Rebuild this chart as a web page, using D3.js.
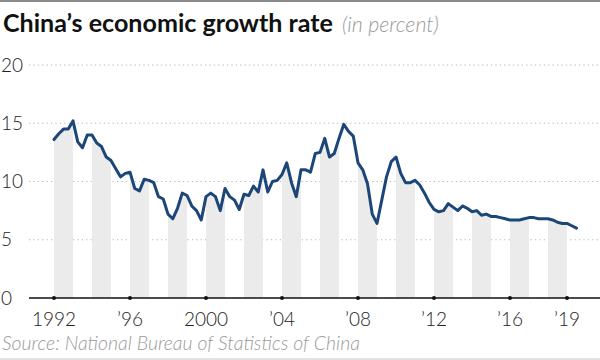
<!DOCTYPE html>
<html>
<head>
<meta charset="utf-8">
<script src="https://cdn.jsdelivr.net/npm/d3@7"></script>
<style>
  body { margin: 0; background: #fff; }
  svg { display: block; }
</style>
</head>
<body>
<div id="chart"></div>
<script>
// Quarterly growth, 1992 Q1 .. 2019 Q3 (in percent)
const startYear = 1992;
const growth = [
  13.6, 14.1, 14.5, 14.5,   // 1992
  15.2, 13.4, 12.9, 14.0,   // 1993
  14.0, 13.3, 13.0, 12.1,   // 1994
  11.8, 11.1, 10.4, 10.7,   // 1995
  10.8, 9.4, 9.2, 10.2,     // 1996
  10.1, 9.9, 8.7, 8.5,      // 1997
  7.2, 6.8, 7.7, 9.0,       // 1998
  8.8, 7.9, 7.5, 6.7,       // 1999
  8.7, 9.0, 8.7, 7.5,       // 2000
  9.4, 8.7, 8.4, 7.6,       // 2001
  8.9, 8.8, 9.6, 9.1,       // 2002
  11.0, 9.1, 10.0, 10.1,    // 2003
  10.6, 11.6, 9.9, 8.7,     // 2004
  11.0, 11.0, 10.8, 12.4,   // 2005
  12.5, 13.7, 12.1, 12.4,   // 2006
  13.7, 14.9, 14.3, 13.9,   // 2007
  11.6, 11.0, 9.8, 7.2,     // 2008
  6.4, 8.4, 10.4, 11.7,     // 2009
  12.1, 10.7, 9.9, 9.9,     // 2010
  10.1, 9.7, 9.0, 8.2,      // 2011
  7.6, 7.4, 7.5, 8.1,       // 2012
  7.8, 7.5, 7.9, 7.7,       // 2013
  7.4, 7.5, 7.1, 7.2,       // 2014
  7.0, 7.0, 6.9, 6.8,       // 2015
  6.7, 6.7, 6.7, 6.8,       // 2016
  6.9, 6.9, 6.8, 6.8,       // 2017
  6.8, 6.7, 6.5, 6.4,       // 2018
  6.4, 6.2, 6.0             // 2019
];

// shaded years
const bandYears = [1992, 1994, 1996, 1998, 2000, 2002, 2004, 2006, 2008, 2010, 2012, 2014, 2016, 2018];

// axis ticks
const xTicks = [1992, 1996, 2000, 2004, 2008, 2012, 2016, 2019];
const xTickLabels = ["1992", "\u201996", "2000", "\u201904", "\u201908", "\u201912", "\u201916", "\u201919"];
const yTicks = [0, 5, 10, 15, 20];

const width = 600;
const height = 360;
const font = "Lato, 'Noto Sans', sans-serif";

const svg = d3.select("#chart")
  .append("svg")
  .attr("width", width)
  .attr("height", height)
  .attr("viewBox", [0, 0, width, height]);

// scales
const x = d3.scaleLinear().domain([1992, 2019]).range([54, 567]);
const y = d3.scaleLinear().domain([0, 20]).range([298, 65]);

const data = growth.map((v, i) => ({ t: startYear + i / 4, v: v }));

// size a text so it spans the wanted width
function fitText(sel, size, target) {
  const w = sel.node().getComputedTextLength();
  sel.attr("font-size", size * target / w);
}

// frame lines
svg.append("rect").attr("x", 0).attr("y", 0).attr("width", width).attr("height", 2).attr("fill", "#8a8a8a");
svg.append("rect").attr("x", 0).attr("y", height - 2).attr("width", width).attr("height", 2).attr("fill", "#e2e2e2");

// title
const title = svg.append("text")
  .attr("x", 3)
  .attr("y", 32)
  .attr("font-family", font)
  .attr("font-weight", 700)
  .attr("font-size", 21)
  .attr("fill", "#111")
  .text("China\u2019s economic growth rate");
fitText(title, 21, 330);

const sub = svg.append("text")
  .attr("x", 342)
  .attr("y", 32)
  .attr("font-family", font)
  .attr("font-style", "italic")
  .attr("font-weight", 300)
  .attr("font-size", 18)
  .attr("fill", "#9a9a9a")
  .text("(in percent)");
fitText(sub, 18, 97);

// gridlines
svg.append("g")
  .selectAll("line")
  .data(yTicks.filter(d => d > 0))
  .join("line")
    .attr("x1", 29)
    .attr("x2", width)
    .attr("y1", d => y(d))
    .attr("y2", d => y(d))
    .attr("stroke", "#b5b5b5")
    .attr("stroke-width", 1)
    .attr("stroke-dasharray", "1.2,3.2");

// y labels
svg.append("g")
  .selectAll("text")
  .data(yTicks)
  .join("text")
    .attr("x", 1)
    .attr("y", d => y(d) + 6.5)
    .attr("font-family", font)
    .attr("font-weight", 300)
    .attr("font-size", 19)
    .attr("fill", "#222")
    .text(d => d);

// shaded bands: area under the line, only in even years
const clip = svg.append("clipPath").attr("id", "bands");
clip.selectAll("rect")
  .data(bandYears)
  .join("rect")
    .attr("x", d => x(d))
    .attr("width", d => x(d + 1) - x(d))
    .attr("y", 0)
    .attr("height", height);

const area = d3.area()
  .x(d => x(d.t))
  .y0(y(0))
  .y1(d => y(d.v));

svg.append("path")
  .datum(data)
  .attr("clip-path", "url(#bands)")
  .attr("d", area)
  .attr("fill", "#ebebeb");

// x axis
const xAxis = svg.append("g");
xAxis.append("line")
  .attr("x1", 29)
  .attr("x2", width)
  .attr("y1", y(0))
  .attr("y2", y(0))
  .attr("stroke", "#111")
  .attr("stroke-width", 1.5);

xAxis.selectAll("circle")
  .data(xTicks)
  .join("circle")
    .attr("cx", d => x(d))
    .attr("cy", y(0))
    .attr("r", 2)
    .attr("fill", "#111");

xAxis.selectAll("text")
  .data(xTicks)
  .join("text")
    .attr("x", d => x(d))
    .attr("y", 326)
    .attr("text-anchor", "middle")
    .attr("font-family", font)
    .attr("font-weight", 300)
    .attr("font-size", 19)
    .attr("fill", "#222")
    .text((d, i) => xTickLabels[i]);

// growth line
const line = d3.line()
  .x(d => x(d.t))
  .y(d => y(d.v));

svg.append("path")
  .datum(data)
  .attr("d", line)
  .attr("fill", "none")
  .attr("stroke", "#1b4677")
  .attr("stroke-width", 3)
  .attr("stroke-linejoin", "round")
  .attr("stroke-linecap", "round");

// source
const src = svg.append("text")
  .attr("x", 2)
  .attr("y", 350)
  .attr("font-family", font)
  .attr("font-style", "italic")
  .attr("font-weight", 300)
  .attr("font-size", 18)
  .attr("fill", "#9a9a9a")
  .text("Source: National Bureau of Statistics of China");
fitText(src, 18, 358);
</script>
</body>
</html>
